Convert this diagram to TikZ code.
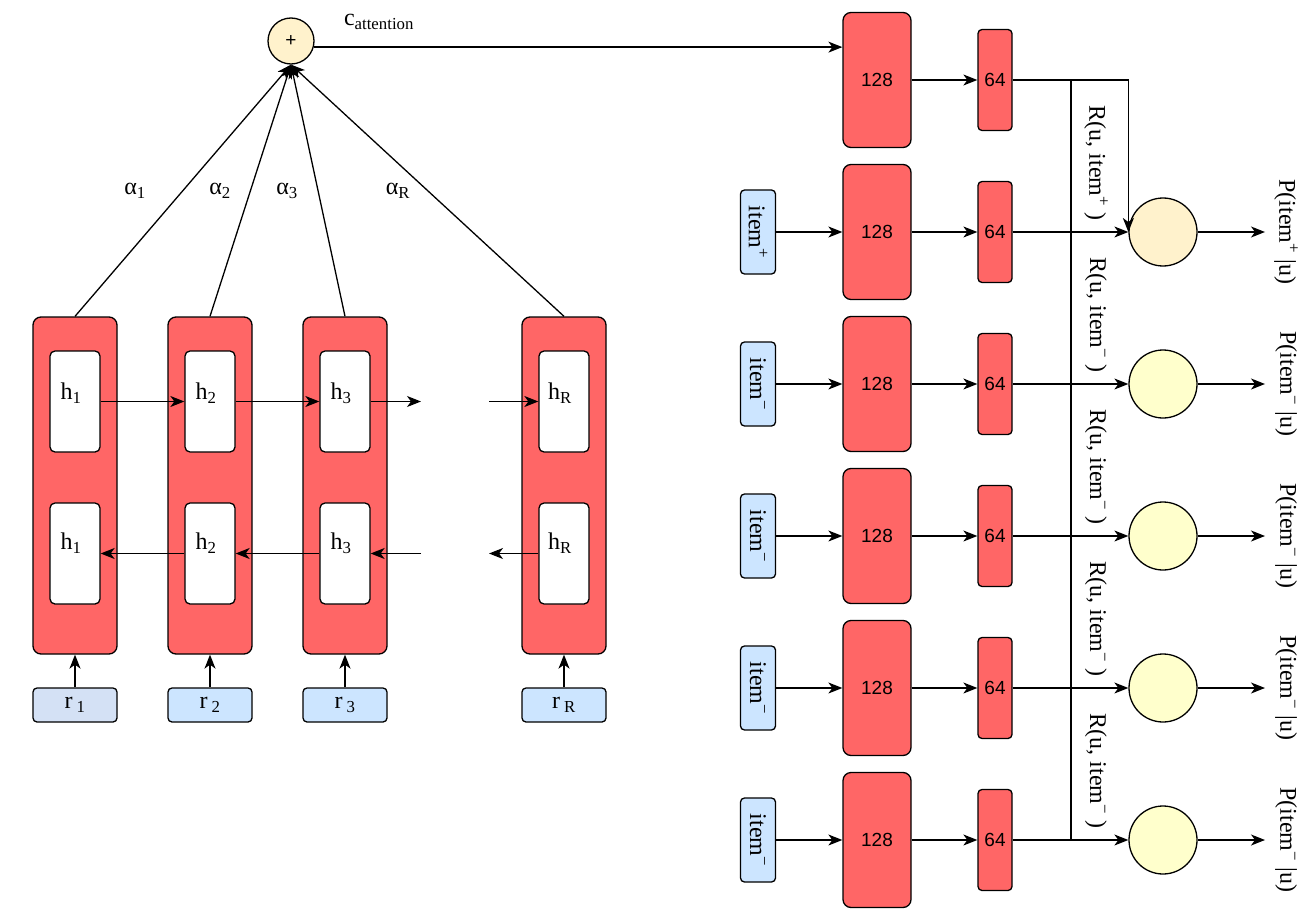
\documentclass[tikz,border=0pt]{standalone}
\usepackage{fontspec}
\setmainfont{Liberation Serif}
\newfontfamily\numfont{Liberation Sans}
\usetikzlibrary{arrows.meta,calc}
\definecolor{redfill}{HTML}{FF6666}
\definecolor{bluefill}{HTML}{CCE5FF}
\definecolor{grayblue}{HTML}{D4E1F5}
\definecolor{plusfill}{HTML}{FFF2CC}
\definecolor{yelfill}{HTML}{FFFFCC}
\begin{document}
\begin{tikzpicture}[x=1pt,y=-1pt,line width=1.3pt,
  arr/.style={-{Stealth[length=14pt,width=11pt,inset=4pt]}},
  bigbox/.style={draw,fill=redfill,rounded corners=8pt,minimum width=84pt,minimum height=337pt,inner sep=0pt},
  hbox/.style={draw,fill=white,rounded corners=5pt,minimum width=50pt,minimum height=101pt,inner sep=0pt},
  rbox/.style={draw,rounded corners=4pt,minimum width=84pt,minimum height=34pt,inner sep=0pt,font=\fontsize{24}{28}\selectfont},
  boxA/.style={draw,fill=redfill,rounded corners=8pt,minimum width=68pt,minimum height=135pt,inner sep=0pt,font=\numfont\fontsize{19}{22}\selectfont},
  boxB/.style={draw,fill=redfill,rounded corners=4pt,minimum width=34pt,minimum height=101pt,inner sep=0pt,font=\numfont\fontsize{19}{22}\selectfont},
  itbox/.style={draw,fill=bluefill,rounded corners=4pt,minimum width=35pt,minimum height=84pt,inner sep=0pt},
  txt/.style={inner sep=0pt,font=\fontsize{24}{28}\selectfont},
  rtxt/.style={inner sep=0pt,font=\fontsize{24}{28}\selectfont,rotate=-90},
  outc/.style={draw,circle,minimum size=68pt,inner sep=0pt}]
\useasboundingbox (0,0) rectangle (1314,920);

% ---------- left part ----------
\node[draw,circle,fill=plusfill,minimum size=46pt,inner sep=0pt,font=\numfont\fontsize{19}{22}\selectfont] (plus) at (291,41) {+};
\node[txt] (catt) at (379,22) {c\textsubscript{attention}};

\foreach \n/\cx in {1/75,2/210,3/345,R/564}{
  \node[bigbox] (col\n) at (\cx,485.5) {};
  \node[hbox] (ht\n) at (\cx,401.5) {};
  \node[hbox] (hb\n) at (\cx,553.5) {};
  \node[txt] (lt\n) at (\cx-4,393) {h\textsubscript{\n}};
  \node[txt] (lb\n) at (\cx-4,543) {h\textsubscript{\n}};
  \draw[arr] (col\n.north) -- (plus.south);
}
\node[rbox,fill=grayblue] (r1) at (75,705) {r\,\textsubscript{1}};
\node[rbox,fill=bluefill] (r2) at (210,705) {r\,\textsubscript{2}};
\node[rbox,fill=bluefill] (r3) at (345,705) {r\,\textsubscript{3}};
\node[rbox,fill=bluefill] (rR) at (564,705) {r\,\textsubscript{R}};
\foreach \n in {1,2,3,R}{ \draw[arr] (r\n.north) -- (col\n.south); }

\node[txt] (al1) at (135,191) {α\textsubscript{1}};
\node[txt] (al2) at (220,191) {α\textsubscript{2}};
\node[txt] (al3) at (287,191) {α\textsubscript{3}};
\node[txt] (alR) at (398,191) {α\textsubscript{R}};

\coordinate (f3) at (421,401.5);
\coordinate (f4) at (489,401.5);
\coordinate (b3) at (421,553.5);
\coordinate (b4) at (489,553.5);
\draw[arr] (ht1.east) -- (ht2.west);
\draw[arr] (ht2.east) -- (ht3.west);
\draw[arr] (ht3.east) -- (f3);
\draw[arr] (f4) -- (htR.west);
\draw[arr] (hb2.west) -- (hb1.east);
\draw[arr] (hb3.west) -- (hb2.east);
\draw[arr] (b3) -- (hb3.east);
\draw[arr] (hbR.west) -- (b4);

% ---------- right part ----------
\node[boxA] (a1) at (877,80) {128};
\node[boxB] (b1) at (995,80) {64};
\draw[arr] (plus.-15) -- (plus.-15 -| a1.west);
\draw[arr] (a1) -- (b1);

\foreach \i/\y/\s/\col in {2/232/+/plusfill,3/384/−/yelfill,4/536/−/yelfill,5/688/−/yelfill,6/840/−/yelfill}{
  \node[itbox] (it\i) at (758,\y) {};
  \node[rtxt] (itl\i) at (758,\y) {item\textsuperscript{\s}};
  \node[boxA] (a\i) at (877,\y) {128};
  \node[boxB] (b\i) at (995,\y) {64};
  \node[outc,fill=\col] (c\i) at (1163,\y) {};
  \coordinate (o\i) at (1265,\y);
  \node[rtxt] (P\i) at (1286,\y) {P(item\textsuperscript{\s} |u)};
  \node[rtxt] (R\i) at (1096,\y-69) {R(u, item\textsuperscript{\s} )};
  \draw[arr] (it\i) -- (a\i);
  \draw[arr] (a\i) -- (b\i);
  \draw[arr] (b\i) -- (c\i);
  \draw[arr] (c\i) -- (o\i);
}
\draw[arr] (b1.east) -| (c2.west);
\coordinate (j) at (1071,80);
\draw (j) -- (j |- c6.west);
\end{tikzpicture}
\end{document}
